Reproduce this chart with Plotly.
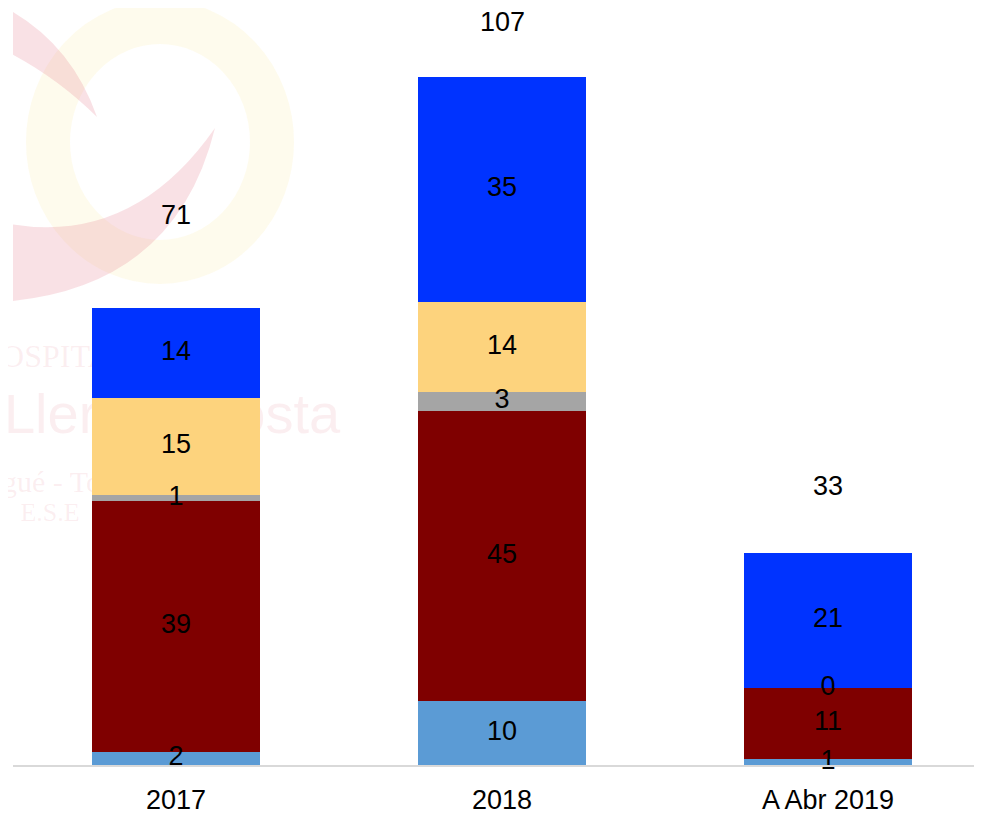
import plotly.graph_objects as go

# data
categorias = ["2017", "2018", "A Abr 2019"]
serie_azul_claro = [2, 10, 1]
serie_granate = [39, 45, 11]
serie_gris = [1, 3, 0]
serie_amarilla = [15, 14, None]
serie_azul = [14, 35, 21]
totales = [71, 107, 33]

series = [
    ("Serie 1", serie_azul_claro, "#5B9BD5"),
    ("Serie 2", serie_granate, "#7F0000"),
    ("Serie 3", serie_gris, "#A5A5A5"),
    ("Serie 4", serie_amarilla, "#FDD37D"),
    ("Serie 5", serie_azul, "#0033FF"),
]

W, H = 982, 815
# the page body adds an 8px offset, margins are set to compensate
L, R, T, B = 5, 8, 0, 58
FONT = "Liberation Sans, Arial, sans-serif"

fig = go.Figure()

# --- faint hospital watermark on the base axes (screen pixel units), bars drawn over it ---
rosa = "rgba(226,120,138,0.22)"
rosa_txt = "rgba(226,120,138,0.13)"
amarillo = "rgba(252,230,150,0.17)"
fig.add_shape(type="circle", xref="x", yref="y", x0=48, y0=22, x1=272, y1=262,
              line=dict(color=amarillo, width=44), layer="below")
fig.add_shape(type="path", xref="x", yref="y", layer="below",
              path="M 0,5 Q 70,40 97,117 Q 55,75 0,48 Z",
              fillcolor=rosa, line=dict(width=0))
fig.add_shape(type="path", xref="x", yref="y", layer="below",
              path="M 0,222 Q 130,250 215,128 Q 175,290 0,302 Z",
              fillcolor=rosa, line=dict(width=0))
marca_txt = ["HOSPITAL", "Lleras Acosta", "Ibagué - Tolima", "E.S.E"]
marca_x = [54, 172, 59, 50]
marca_y = [359, 419, 484, 514]
marca_tam = [32, 56, 30, 26]
marca_fam = ["Liberation Serif, serif", "Liberation Sans, sans-serif",
             "Liberation Serif, serif", "Liberation Serif, serif"]
for t, mx, my, s, f in zip(marca_txt, marca_x, marca_y, marca_tam, marca_fam):
    fig.add_trace(go.Scatter(
        x=[mx], y=[my], text=[t], mode="text", textposition="middle center",
        textfont=dict(size=s, color=rosa_txt, family=f),
        showlegend=False, hoverinfo="skip", cliponaxis=False,
        xaxis="x", yaxis="y",
    ))

# --- stacked bars on the overlaid axes ---
for nombre, valores, color in series:
    fig.add_trace(go.Bar(
        x=categorias, y=[v if v is not None else 0 for v in valores],
        name=nombre, marker=dict(color=color, line=dict(width=0)),
        width=0.515, xaxis="x2", yaxis="y2",
    ))

# segment labels centred in each segment
lx, ly, lt = [], [], []
base = [0, 0, 0]
for nombre, valores, color in series:
    for i, v in enumerate(valores):
        if v is None:
            continue
        lx.append(categorias[i])
        ly.append(base[i] + v / 2)
        lt.append(str(v))
        base[i] += v
fig.add_trace(go.Scatter(
    x=lx, y=ly, text=lt, mode="text", textposition="middle center",
    textfont=dict(size=27, color="black", family=FONT),
    showlegend=False, hoverinfo="skip", cliponaxis=False,
    xaxis="x2", yaxis="y2",
))

# totals above the bars (x given as category index, "2017" would be read as a number)
desfase = [93, 55, 67]
for i, (tot, d) in enumerate(zip(totales, desfase)):
    fig.add_annotation(x=i, y=tot, xref="x2", yref="y2", text=str(tot),
                       showarrow=False, yshift=d,
                       font=dict(size=27, color="black", family=FONT))

fig.update_layout(
    barmode="stack", width=W, height=H, showlegend=False,
    margin=dict(l=L, r=R, t=T, b=B, pad=0),
    paper_bgcolor="white", plot_bgcolor="rgba(0,0,0,0)",
    font=dict(family=FONT, color="black"),
    xaxis=dict(range=[13, 982], visible=False, automargin=False, fixedrange=True),
    yaxis=dict(range=[765, 8], visible=False, automargin=False, fixedrange=True),
    xaxis2=dict(overlaying="x", type="category", range=[-0.5, 2.4724],
                showline=True, linecolor="#D9D9D9", linewidth=2, showgrid=False,
                ticks="", ticklabelstandoff=10, automargin=False,
                tickfont=dict(size=27, color="black")),
    yaxis2=dict(overlaying="y", range=[0, 117.7], visible=False, showgrid=False,
                zeroline=False, automargin=False),
)

fig.write_html("out.html")
